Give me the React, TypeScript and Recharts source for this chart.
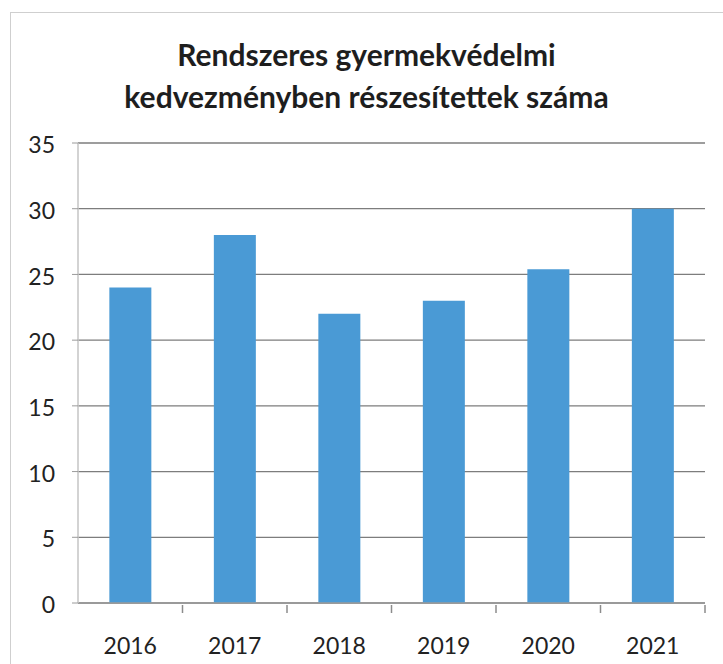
import { BarChart, Bar, XAxis, YAxis, CartesianGrid } from "recharts";

const years = ["2016", "2017", "2018", "2019", "2020", "2021"];
const counts = [24, 28, 22, 23, 25.4, 30];
const yTicks = [0, 5, 10, 15, 20, 25, 30, 35];

const titleLines = ["Rendszeres gyermekvédelmi", "kedvezményben részesítettek száma"];

const data = years.map((year, i) => ({ year, count: counts[i] }));

const FONT = "Lato, 'Open Sans', sans-serif";

// category tick: label at the band centre, tick mark at the band's right edge
function YearTick(props: any) {
  const { x, y, payload } = props;
  const half = 627 / years.length / 2;
  return (
    <g>
      <line x1={x + half} y1={y - 6} x2={x + half} y2={y + 2} stroke="#8c8c8c" strokeWidth={1.5} />
      <text x={x} y={y + 43} textAnchor="middle" fill="#222" fontSize={23} fontFamily={FONT}>
        {payload.value}
      </text>
    </g>
  );
}

export default function App() {
  return (
    <div style={{ position: "relative", width: 723, height: 664, overflow: "hidden", background: "#fff" }}>
      <style>{`body{margin:0}`}</style>
      <div
        style={{
          position: "absolute",
          left: 10,
          top: 12,
          width: 720,
          height: 670,
          border: "1.5px solid #cfcfcf",
          boxSizing: "border-box",
        }}
      />
      <div
        style={{
          position: "absolute",
          left: 0,
          top: 33,
          width: 733,
          textAlign: "center",
          fontFamily: FONT,
          fontWeight: 700,
          fontSize: 30,
          lineHeight: "42px",
          color: "#1e1e1e",
        }}
      >
        {titleLines.map((t) => (
          <div key={t}>{t}</div>
        ))}
      </div>
      <div style={{ position: "absolute", left: 0, top: 0 }}>
        <BarChart
          width={723}
          height={664}
          data={data}
          margin={{ top: 143, right: 18, bottom: 0, left: 0 }}
          barCategoryGap="30%"
        >
          <CartesianGrid vertical={false} stroke="#7d7d7d" strokeWidth={1.3} />
          <XAxis
            dataKey="year"
            tick={<YearTick />}
            tickLine={false}
            axisLine={{ stroke: "#9a9a9a", strokeWidth: 1.5 }}
            height={61}
            interval={0}
          />
          <YAxis
            domain={[0, 35]}
            ticks={yTicks}
            width={78}
            tickSize={6}
            tickMargin={17}
            tickLine={{ stroke: "#9a9a9a" }}
            axisLine={{ stroke: "#c4c4c4", strokeWidth: 1.5 }}
            tick={{ fill: "#222", fontSize: 23, fontFamily: FONT, dy: 2 }}
          />
          <Bar dataKey="count" fill="#4a9ad5" isAnimationActive={false} />
        </BarChart>
      </div>
    </div>
  );
}
